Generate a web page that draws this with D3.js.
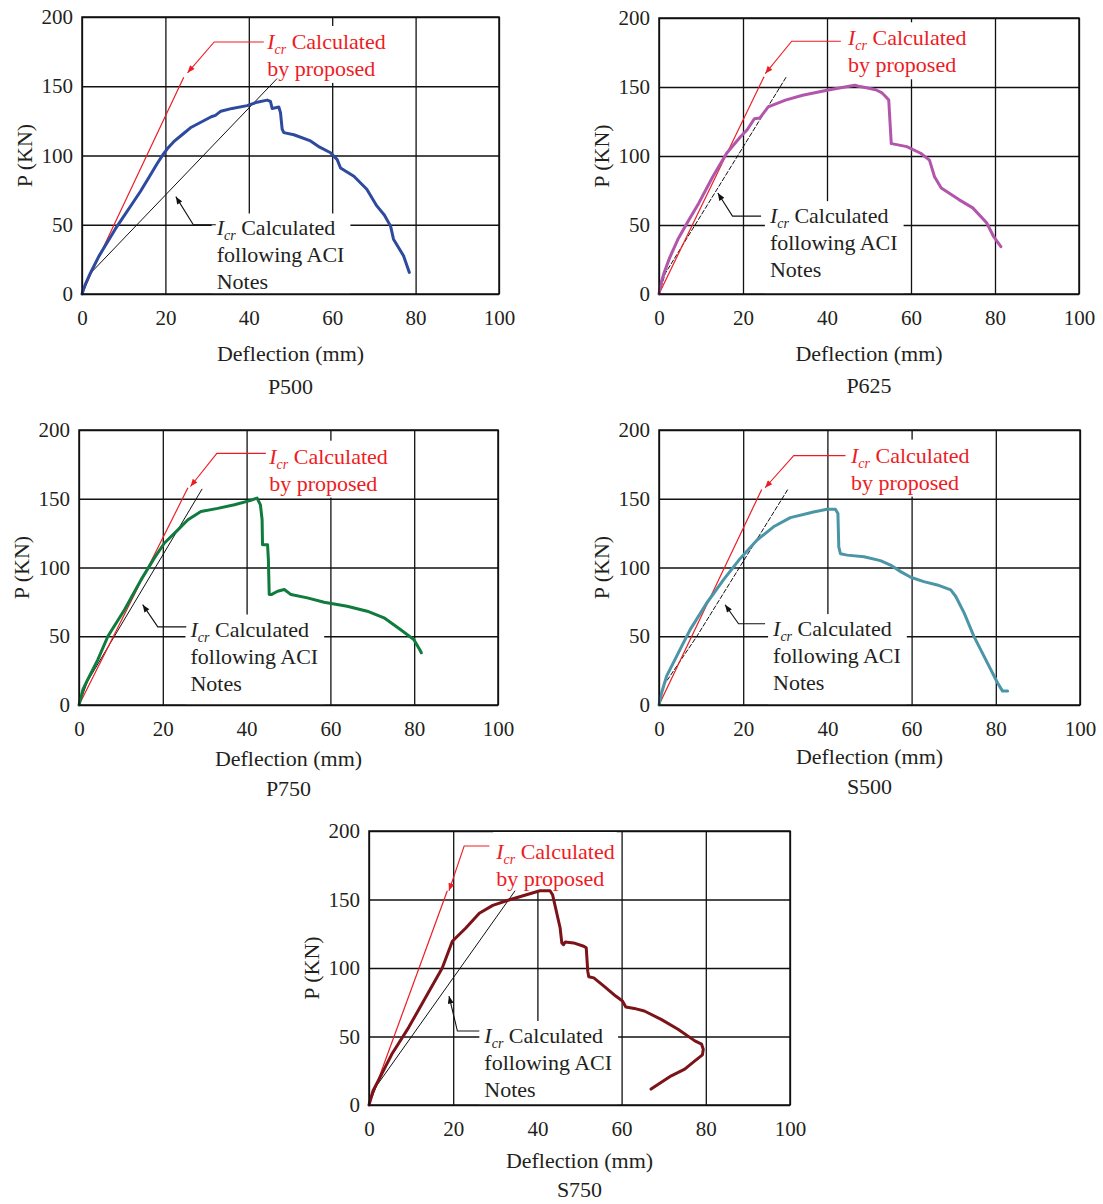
<!DOCTYPE html>
<html>
<head>
<meta charset="utf-8">
<script src="https://cdn.jsdelivr.net/npm/d3@7"></script>
<style>
  body { margin: 0; background: #fff; }
  svg text { font-family: "Liberation Serif", "Times New Roman", serif; fill: #231f20; }
</style>
</head>
<body>
<svg id="chart" width="1103" height="1204"></svg>
<script>
// D3 v7
const xTicks = [0, 20, 40, 60, 80, 100];
const yTicks = [0, 50, 100, 150, 200];

// P500
const p500Test = [[0,0],[0.8,7],[2,15],[4,27],[6,37],[8,47],[10,56],[12,65],[14,74],[16,84],[18,94],[19.5,101],[20.5,105],[22,110],[24,115],[26,120],[28.5,124],[31,128],[32,129],[33.3,132],[36,134],[39.6,136],[42,138.5],[44.4,140],[45.2,139],[45.6,134],[47.2,135],[47.6,131],[48,119],[48.4,116.5],[50.8,115],[54.8,110.5],[57,106],[59.6,102],[61.2,97],[62,91],[65.2,85],[68.3,75.6],[70.7,63.6],[72.5,57],[74,49],[74.7,39.6],[77.1,27.6],[78.5,15.6]];
const p500Proposed = [[0,0],[2.2,15],[24.4,156.5]];
const p500Aci = [[0,0],[2.2,15.5],[46.8,155.6]];

// P625
const p625Test = [[0,0],[0.5,8],[1.24,15.6],[2.5,26],[4.5,39.6],[7,53],[9.5,66],[12.8,85],[16.1,102],[19.4,114],[21,119],[22.7,127],[24,127.5],[26,135.6],[30.1,140.5],[34.2,144],[40,147.7],[46.6,151.3],[47.5,150.5],[49.1,149.6],[51.6,148],[53,146],[54,142.9],[54.7,140.5],[55.3,109],[55.7,108.8],[59,106.8],[62.3,102],[64.4,97],[65.6,85],[67.2,76.8],[71.4,68.4],[74.7,62.4],[78,51.6],[79.6,42],[81.4,34.3]];
const p625Proposed = [[0,0],[25,157.5]];
const p625Aci = [[0,0],[1.5,15],[30.3,157.3]];

// P750
const p750Test = [[0,0],[0.95,11.4],[2.1,18.6],[4.5,33],[6.9,50],[10.9,69.4],[14.8,91],[18,107],[20.4,117.8],[23.6,127.4],[26,134.7],[29.1,140.7],[33.1,143],[37.1,145.6],[41,148.8],[42.5,150.5],[43.3,145.6],[43.7,134.7],[43.8,116.6],[45,116.6],[45.2,105.7],[45.4,80.3],[45.9,80.3],[47.4,82.7],[49,84],[50.6,80.3],[54.5,77.9],[58.5,74.7],[64,71.8],[68.8,68.2],[72.8,63.4],[76.7,54.9],[79.9,47.6],[81.3,40.4],[81.7,38]];
const p750Proposed = [[0,0],[26,158]];
const p750Aci = [[0,0],[2,17],[29.4,157.2]];

// S500
const s500Test = [[0,0],[0.63,8.9],[1.8,21],[4.2,35.5],[7.4,54.8],[11.3,74],[15.3,91],[19.3,106.6],[23.3,120],[27.2,129.6],[31.2,136.3],[36.7,140.4],[39.9,142.3],[41.9,142.3],[42.5,139.2],[42.7,115],[43.1,110],[44.7,109],[48.7,107.8],[52.6,105],[55,101.8],[57.4,97],[59.8,92.9],[62.9,89.7],[66.1,87.3],[69.3,83.7],[70.5,78.9],[72.5,66.8],[74.8,49.9],[78,30.6],[80.4,16.2],[81.6,10.1],[82.8,10.1]];
const s500Proposed = [[0,0],[24.4,156.8]];
const s500Aci = [[0,0],[1,13.7],[9,50],[30.6,156.8]];

// S750
const s750Test = [[0,0],[0.96,10.4],[2.2,17.7],[5.4,37],[9.4,56.5],[13.4,78.3],[17.4,100],[19.8,119.5],[23,129.2],[26.2,140],[29.4,145.7],[33.4,149.8],[37.4,153.5],[40.6,156.4],[43,156.4],[43.6,153.5],[45.4,129.2],[45.8,118.3],[46.2,117],[46.6,119],[48.6,118.3],[51,115.9],[51.6,114.7],[51.96,97.7],[52.2,93.6],[53.4,92.8],[55.8,86.8],[58.6,79.5],[60.2,75.9],[61,71.5],[63,70.5],[65.4,68.6],[69.4,62.5],[73.4,55.3],[77.4,46.8],[79,44.4],[79.4,40.7],[79.2,36.6],[77.4,32.2],[75,26.2],[71.8,21.3],[67,11.6]];
const s750Proposed = [[0,0],[18.6,156.4]];
const s750Aci = [[0,0],[1.8,14],[34.7,156.4]];

const RED = '#ed1c24';

const panels = [
  { name:'P500', frame:{x:82,y:17,w:417,h:277}, test:p500Test, color:'#2d4a9f', proposed:p500Proposed, aci:p500Aci, aciDash:false,
    titleDy:[67,100], redText:[44.4,182], redLeader:[[43.6,182],[31.7,182],[25.3,159.7]],
    blackText:[32.3,47.3], blackLeader:[[32.1,50],[26.7,50],[22.5,70.3]], redBoxTop:false },
  { name:'P625', frame:{x:659,y:18,w:420,h:276}, test:p625Test, color:'#b256ab', proposed:p625Proposed, aci:p625Aci, aciDash:true,
    titleDy:[67,99], redText:[45,185.3], redLeader:[[43.3,183.2],[31.6,183.2],[25.3,159.7]],
    blackText:[26.4,56.4], blackLeader:[[24.3,56.4],[17.5,56.4],[14,73.2]], redBoxTop:false },
  { name:'P750', frame:{x:79,y:430,w:419,h:275}, test:p750Test, color:'#0f7b3d', proposed:p750Proposed, aci:p750Aci, aciDash:false,
    titleDy:[61,91], redText:[45.4,180.6], redLeader:[[44.6,183],[32.9,183],[26.6,158.9]],
    blackText:[26.6,54.9], blackLeader:[[25.6,56.8],[18.8,56.8],[15.2,73]], redBoxTop:false },
  { name:'S500', frame:{x:659,y:430,w:421,h:275}, test:s500Test, color:'#4b95a7', proposed:s500Proposed, aci:s500Aci, aciDash:true,
    titleDy:[59,89], redText:[45.6,181.4], redLeader:[[44.3,181.4],[32,181.4],[25.2,158]],
    blackText:[27.1,55.2], blackLeader:[[25.2,59.1],[18.9,59.1],[15.7,72.9]], redBoxTop:false },
  { name:'S750', frame:{x:369,y:831,w:421,h:274}, test:s750Test, color:'#7b1318', proposed:s750Proposed, aci:s750Aci, aciDash:false,
    titleDy:[63,92], redText:[30.2,185], redLeader:[[28.6,189],[22.6,189],[19,156.4]],
    blackText:[27.4,50.4], blackLeader:[[26.2,54],[21,54],[19,79.5]], redBoxTop:true }
];

const svg = d3.select('#chart');
svg.append('rect').attr('width',1103).attr('height',1204).attr('fill','#fff');

// arrow heads
const defs = svg.append('defs');
[['arrRed', RED], ['arrBlack', '#111']].forEach(([id, c]) => {
  defs.append('marker').attr('id', id)
    .attr('viewBox','0 0 10 8').attr('refX',10).attr('refY',4)
    .attr('markerWidth',9).attr('markerHeight',6).attr('markerUnits','userSpaceOnUse')
    .attr('orient','auto')
    .append('path').attr('d','M0,0 L10,4 L0,8 Z').attr('fill', c);
});

function addLabel(g, x, y, lines, color){
  // first line: I_cr Calculated
  const t = g.append('g');
  const lh = 27;
  lines.forEach((ln, i) => {
    const txt = t.append('text').attr('x', x).attr('y', y + 7 + i*lh)
      .style('font-size','22px').style('fill', color);
    if (i === 0){
      txt.append('tspan').text('I').style('font-style','italic');
      txt.append('tspan').text('cr').style('font-style','italic').style('font-size','14px').attr('dy', 5);
      txt.append('tspan').text(' ' + ln).attr('dy', -5);
    } else {
      txt.text(ln);
    }
  });
  return t;
}

panels.forEach(p => {
  const {x:fx, y:fy, w, h} = p.frame;
  const g = svg.append('g').attr('transform', `translate(${fx},${fy})`);
  const x = d3.scaleLinear().domain([0,100]).range([0,w]);
  const y = d3.scaleLinear().domain([0,200]).range([h,0]);

  // grid + tick labels
  const gx = g.append('g').attr('transform', `translate(0,${h})`)
    .call(d3.axisBottom(x).tickValues(xTicks).tickSize(-h).tickPadding(16).tickFormat(d3.format('d')));
  const gy = g.append('g')
    .call(d3.axisLeft(y).tickValues(yTicks).tickSize(-w).tickPadding(9).tickFormat(d3.format('d')));
  [gx, gy].forEach(a => {
    a.select('.domain').remove();
    a.selectAll('line').attr('stroke','#111').attr('stroke-width',1.3);
    a.selectAll('text').attr('font-family',null).style('font-size','21px').attr('fill','#231f20');
  });

  const boxLayer = g.append('g');
  const lineLayer = g.append('g');
  const textLayer = g.append('g');

  const line = d3.line().x(d => x(d[0])).y(d => y(d[1]));

  // frame
  g.append('rect').attr('width', w).attr('height', h)
    .attr('fill','none').attr('stroke','#111').attr('stroke-width',1.5);

  lineLayer.append('path').datum(p.aci).attr('d', line)
    .attr('fill','none').attr('stroke','#111').attr('stroke-width',1)
    .attr('stroke-dasharray', p.aciDash ? '5,1.5' : null);
  lineLayer.append('path').datum(p.proposed).attr('d', line)
    .attr('fill','none').attr('stroke', RED).attr('stroke-width',1.2);
  lineLayer.append('path').datum(p.test).attr('d', line)
    .attr('fill','none').attr('stroke', p.color).attr('stroke-width',3)
    .attr('stroke-linejoin','round').attr('stroke-linecap','round');

  // leaders
  lineLayer.append('path').datum(p.redLeader).attr('d', line)
    .attr('fill','none').attr('stroke', RED).attr('stroke-width',1.1).attr('marker-end','url(#arrRed)');
  lineLayer.append('path').datum(p.blackLeader).attr('d', line)
    .attr('fill','none').attr('stroke', '#111').attr('stroke-width',1.1).attr('marker-end','url(#arrBlack)');

  // labels
  const red = addLabel(textLayer, x(p.redText[0]), y(p.redText[1]), ['Calculated','by proposed'], RED);
  const blk = addLabel(textLayer, x(p.blackText[0]), y(p.blackText[1]), ['Calculated','following ACI','Notes'], '#231f20');

  // white boxes behind the label text
  const bb = blk.node().getBBox();
  boxLayer.append('rect').attr('x', bb.x - 4).attr('y', bb.y - 2)
    .attr('width', bb.width + 10).attr('height', h - (bb.y - 2)).attr('fill','#fff');
  const rb = red.node().getBBox();
  const rTop = p.redBoxTop ? 1 : rb.y - 3;
  boxLayer.append('rect').attr('x', rb.x - 2).attr('y', rTop)
    .attr('width', rb.width + 4).attr('height', rb.y + rb.height + 2 - rTop).attr('fill','#fff');

  // axis titles
  g.append('text').attr('x', w/2).attr('y', h + p.titleDy[0]).attr('text-anchor','middle')
    .style('font-size','22px').text('Deflection (mm)');
  g.append('text').attr('x', w/2).attr('y', h + p.titleDy[1]).attr('text-anchor','middle')
    .style('font-size','22px').text(p.name);
  g.append('text').attr('transform', `translate(-50,${h/2}) rotate(-90)`).attr('text-anchor','middle')
    .style('font-size','22px').text('P (KN)');
});
</script>
</body>
</html>
